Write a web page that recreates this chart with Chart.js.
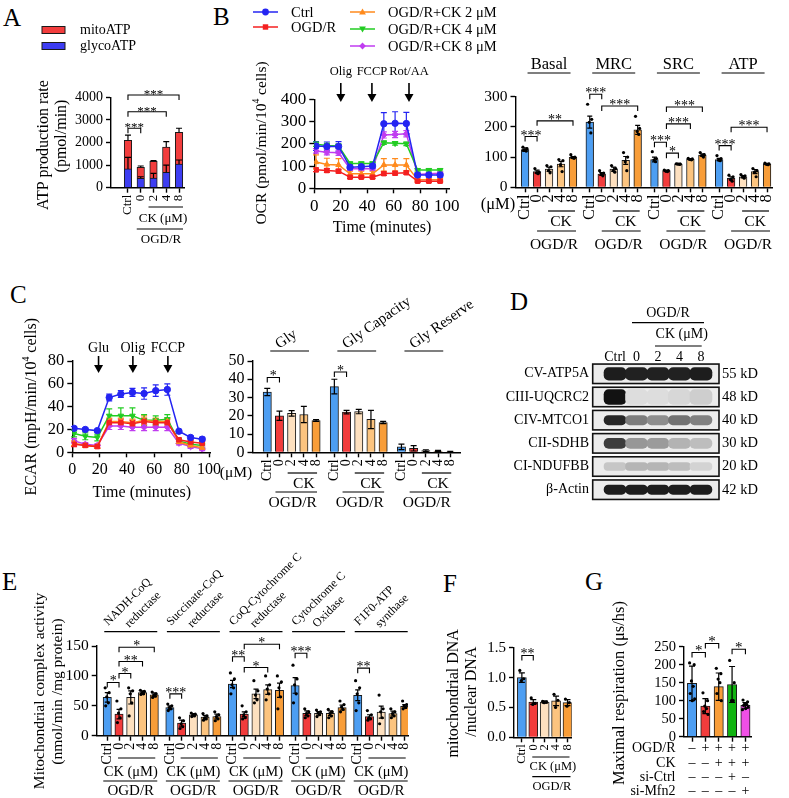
<!DOCTYPE html>
<html>
<head>
<meta charset="utf-8">
<title>Mitochondrial function figure</title>
<script src="https://cdn.jsdelivr.net/npm/chart.js@4.4.1/dist/chart.umd.min.js"></script>
<style>
  html, body { margin: 0; padding: 0; background: #fff; }
  #fig { position: relative; width: 789px; height: 798px; overflow: hidden; font-family: "Liberation Serif", "Times New Roman", serif; }
  #fig canvas { position: absolute; }
  .letter { position: absolute; font-size: 25px; line-height: 1; }
</style>
</head>
<body>
<div id="fig">
  <div class="letter" style="left:3px;top:5px">A</div>
  <div class="letter" style="left:213px;top:4px">B</div>
  <div class="letter" style="left:10px;top:282px">C</div>
  <div class="letter" style="left:510px;top:289px">D</div>
  <div class="letter" style="left:2px;top:569px">E</div>
  <div class="letter" style="left:443px;top:571px">F</div>
  <div class="letter" style="left:585px;top:569px">G</div>
</div>
<script>
// ---------------- data ----------------
const doses = ['Ctrl', '0', '2', '4', '8'];
const doseColors = ['#4d9ef2', '#f23c3c', '#fde0bf', '#fcc47f', '#f89d38'];

// A: ATP production rate (pmol/min)
const atpGlyco = [830, 420, 430, 680, 1050];
const atpMito = [1270, 480, 740, 1120, 1400];
const atpGlycoErr = [515, 65, 200, 320, 175];
const atpTotalErr = [230, 60, 30, 235, 180];

// B / C: Seahorse time courses
const seaTime = [1.3, 9.5, 18.3, 27, 35.5, 44, 52.5, 61, 69.5, 78, 86.5, 95];
const seriesNames = ['Ctrl', 'OGD/R', 'OGD/R+CK 2 μM', 'OGD/R+CK 4 μM', 'OGD/R+CK 8 μM'];
const seriesColors = ['#2424f2', '#f42020', '#ff8a1c', '#22cc22', '#c03cf0'];

const ocrCtrl = [190, 188, 188, 95, 97, 100, 290, 292, 291, 60, 60, 60];
const ocrOgd = [83, 80, 77, 50, 50, 50, 66, 68, 70, 32, 32, 32];
const ocrCk2 = [118, 107, 105, 65, 65, 65, 105, 105, 105, 38, 38, 38];
const ocrCk4 = [198, 192, 190, 112, 112, 112, 205, 202, 200, 82, 82, 82];
const ocrCk8 = [168, 162, 160, 88, 88, 88, 240, 242, 245, 62, 65, 68];
const ocrCtrlErr = [20, 20, 22, 12, 12, 12, 50, 52, 50, 10, 10, 10];
const ocrOgdErr = [8, 8, 8, 6, 6, 6, 8, 8, 8, 5, 5, 5];
const ocrCk2Err = [32, 28, 28, 12, 12, 12, 28, 28, 28, 6, 6, 6];
const ocrCk4Err = [10, 10, 10, 6, 6, 6, 8, 8, 8, 5, 5, 5];
const ocrCk8Err = [10, 12, 12, 8, 8, 8, 14, 14, 14, 6, 6, 6];
const ocrInject = [20, 43.5, 71.5];
const ocrInjectNames = ['Olig', 'FCCP', 'Rot/AA'];

const ecarCtrl = [21, 20, 19, 48, 51, 52.5, 51.5, 54, 55, 18.5, 13, 11.5];
const ecarOgd = [7, 6, 5, 26, 26, 25, 27, 26, 26, 11, 9, 8];
const ecarCk2 = [8, 6, 5, 27, 27, 26, 28, 27, 27, 9, 6, 4];
const ecarCk4 = [16.5, 14, 13, 32, 32, 32, 28, 28, 29, 10, 7, 6];
const ecarCk8 = [10, 7, 6, 23, 23, 22, 22, 22, 22, 8, 5, 3];
const ecarCtrlErr = [1.5, 1, 1, 3, 3, 3.5, 5, 5, 5, 1.5, 1.5, 1.5];
const ecarOgdErr = [2, 1.5, 1.5, 3, 3, 3, 3, 3, 3, 1.5, 1.5, 1.5];
const ecarCk2Err = [2, 1.5, 1.5, 3, 3, 3, 4, 3, 3, 1.5, 1.5, 1.5];
const ecarCk4Err = [3, 3, 3, 6, 7, 7, 5, 4, 4, 2, 2, 2];
const ecarCk8Err = [2, 1.5, 1.5, 3, 3, 3, 3, 3, 3, 1.5, 1.5, 1.5];
const ecarInject = [19.2, 44.3, 69.9];
const ecarInjectNames = ['Glu', 'Olig', 'FCCP'];

// B right: respiration parameters
const respGroups = ['Basal', 'MRC', 'SRC', 'ATP'];
const basalMean = [125, 52, 60, 77, 99];
const mrcMean = [216, 44, 60, 89, 190];
const srcMean = [92, 55, 77, 93, 107];
const atpMean = [92, 30, 35, 52, 77];
const basalErr = [6, 5, 7, 9, 3];
const mrcErr = [20, 5, 7, 13, 15];
const srcErr = [8, 2, 2, 2, 4];
const atpErr = [4, 5, 4, 7, 2];
const basalDots = [[133, 128, 124, 120, 122], [62, 50, 48, 45], [72, 68, 55, 48], [92, 88, 75, 52], [108, 100, 98, 96]];
const mrcDots = [[275, 225, 215, 180], [55, 47, 45, 38], [72, 62, 55, 50], [115, 100, 85, 55], [235, 195, 185, 175]];
const srcDots = [[118, 95, 90, 85], [57, 55, 53, 52], [78, 77, 77, 76], [96, 94, 92, 91], [115, 108, 105, 100]];
const atpDots = [[105, 95, 90, 88], [40, 35, 25, 20], [42, 38, 35, 30], [62, 55, 50, 35], [80, 78, 76, 75]];

// C right: glycolysis parameters
const glyGroups = ['Gly', 'Gly Capacity', 'Gly Reserve'];
const glyMean = [33, 20, 21.3, 20.7, 17.4];
const glyCapMean = [36, 22, 22.3, 18, 16.3];
const glyResMean = [3, 2.2, 0.9, 0.7, 0.3];
const glyErr = [2, 2.5, 1.5, 4.5, 0.5];
const glyCapErr = [4, 1, 1.2, 5, 0.6];
const glyResErr = [1.5, 1.5, 0.5, 0.3, 0.2];

// D: western blot (band darkness 0..1)
const blotRows = ['CV-ATP5A', 'CIII-UQCRC2', 'CIV-MTCO1', 'CII-SDHB', 'CI-NDUFBB', 'β-Actin'];
const blotSizes = ['55 kD', '48 kD', '40 kD', '30 kD', '20 kD', '42 kD'];
const bandAtp5a = [0.95, 0.93, 0.93, 0.93, 0.95];
const bandUqcrc2 = [1.0, 0.05, 0.05, 0.08, 0.12];
const bandMtco1 = [0.9, 0.5, 0.42, 0.55, 0.48];
const bandSdhb = [0.8, 0.38, 0.36, 0.25, 0.2];
const bandNdufbb = [0.16, 0.24, 0.24, 0.2, 0.1];
const bandActin = [0.95, 0.95, 0.95, 0.95, 0.95];

// E: complex activities
const complexNames = [['NADH-CoQ', 'reductase'], ['Succinate-CoQ', 'reductase'], ['CoQ-Cytochrome C', 'reductase'], ['Cytochrome C', 'Oxidase'], ['F1F0-ATP', 'synthase']];
const nadhMean = [64, 36, 64, 72, 68.5];
const succMean = [47, 21, 35, 31, 32];
const coqMean = [86.5, 36, 70, 77, 76];
const coxMean = [84, 37.5, 37.5, 37.5, 47];
const atpsMean = [67.5, 32, 39.5, 37, 49];
const nadhErr = [8, 8, 11, 3, 3];
const succErr = [3, 5, 2, 3, 4];
const coqErr = [6, 4, 8, 8, 12];
const coxErr = [13, 4, 3, 4, 4];
const atpsErr = [9, 3, 10, 4, 3];
const nadhDots = [[80, 72, 65, 55, 50], [58, 45, 38, 30, 22], [80, 75, 70, 55, 33], [76, 74, 72, 70, 69], [73, 70, 68, 66, 64]];
const succDots = [[53, 50, 47, 45, 42], [30, 25, 20, 15, 12], [38, 36, 35, 33, 32], [37, 33, 30, 28, 26], [40, 35, 32, 28, 25]];
const coqDots = [[105, 95, 85, 80, 70], [50, 40, 35, 30, 28], [92, 75, 68, 60, 55], [100, 85, 78, 70, 60], [100, 90, 80, 65, 45]];
const coxDots = [[118, 95, 85, 70, 55], [45, 40, 37, 33, 30], [43, 40, 38, 35, 32], [44, 40, 37, 33, 30], [58, 52, 48, 44, 40]];
const atpsDots = [[92, 80, 70, 55, 42], [42, 35, 30, 28, 26], [68, 45, 40, 30, 20], [45, 40, 37, 33, 30], [58, 52, 50, 47, 45]];

// F: mtDNA / nDNA
const mtdnaMean = [1.0, 0.59, 0.59, 0.61, 0.58];
const mtdnaErr = [0.08, 0.04, 0.02, 0.08, 0.05];
const mtdnaDots = [[1.12, 0.98, 0.95], [0.66, 0.57, 0.55], [0.6, 0.59, 0.58], [0.72, 0.62, 0.5], [0.64, 0.58, 0.52]];

// G: maximal respiration
const maxRespMean = [148, 85, 139, 145, 87];
const maxRespSd = [48, 21, 38, 50, 8];
const maxRespDots = [[205, 200, 155, 140, 120, 105, 100], [122, 100, 85, 78, 70, 62], [190, 175, 160, 150, 120, 100], [212, 150, 100, 100], [102, 97, 92, 90, 87, 82, 78, 75]];
const maxRespColors = ['#4d9ef2', '#f23c3c', '#f89d38', '#10b410', '#f04fe6'];
const condRows = ['OGD/R', 'CK', 'si-Ctrl', 'si-Mfn2'];
const condOgd = [0, 1, 1, 1, 1];
const condCk = [0, 0, 1, 1, 1];
const condSiCtrl = [0, 0, 0, 1, 0];
const condSiMfn2 = [0, 0, 0, 0, 1];

// ---------------- helpers ----------------
const FONT = '"Liberation Serif", "Times New Roman", serif';
Chart.defaults.font.family = FONT;
Chart.defaults.color = '#000';
Chart.defaults.animation = false;
Chart.defaults.plugins.legend.display = false;
Chart.defaults.plugins.tooltip.enabled = false;

const fig = document.getElementById('fig');
const jit = [-0.2, 0.18, -0.05, 0.1, -0.15, 0.22, 0.02, -0.25];

// canvas placed at box; y-axis width and x-axis height fill the gap to the plot area
function mount(box, area) {
  const c = document.createElement('canvas');
  c.width = box[2];
  c.height = box[3];
  c.dataset.yw = area[0] - box[0];
  c.dataset.xh = box[1] + box[3] - area[3];
  Object.assign(c.style, { left: box[0] + 'px', top: box[1] + 'px', width: box[2] + 'px', height: box[3] + 'px' });
  fig.appendChild(c);
  return c;
}

function pad(box, area) {
  return {
    autoPadding: false,
    padding: { left: 0, top: area[1] - box[1], right: box[0] + box[2] - area[2], bottom: 0 }
  };
}

const axisLine = { display: true, color: '#000', width: 1.4 };
const tickGrid = { drawOnChartArea: false, drawTicks: true, tickLength: 5, tickWidth: 1.4, tickColor: '#000', offset: false };

function yAxis(min, max, step, size, fmt, extra) {
  return Object.assign({
    type: 'linear', min, max,
    ticks: { stepSize: step, autoSkip: false, font: { size }, color: '#000', padding: 3, callback: v => fmt ? fmt(v) : String(v) },
    grid: tickGrid, border: axisLine,
    afterFit: s => { s.width = +s.chart.canvas.dataset.yw; }
  }, extra || {});
}

function xCats(min, max, pos, labels, size) {
  return {
    type: 'linear', min, max, offset: false,
    afterBuildTicks: s => { s.ticks = pos.map(v => ({ value: v })); },
    ticks: { autoSkip: false, minRotation: 90, maxRotation: 90, padding: 2, font: { size }, color: '#000', callback: (v, i) => labels[i] },
    grid: tickGrid, border: axisLine,
    afterFit: s => { s.height = +s.chart.canvas.dataset.xh; }
  };
}

function xTime(max, size) {
  return {
    type: 'linear', min: 0, max, offset: false,
    ticks: { stepSize: 20, autoSkip: false, includeBounds: false, maxRotation: 0, font: { size }, color: '#000', padding: 3, callback: v => String(v) },
    grid: tickGrid, border: axisLine,
    afterFit: s => { s.height = +s.chart.canvas.dataset.xh; }
  };
}

function deco(box, after, before) {
  const wrap = fn => ch => {
    const ctx = ch.ctx;
    const px = v => ch.scales.x.getPixelForValue(v) + box[0];
    const py = v => ch.scales.y.getPixelForValue(v) + box[1];
    ctx.save();
    ctx.translate(-box[0], -box[1]);
    fn(ctx, px, py, ch);
    ctx.restore();
  };
  const p = { id: 'deco' };
  if (after) p.afterDraw = wrap(after);
  if (before) p.beforeDatasetsDraw = wrap(before);
  return p;
}

function text(ctx, s, x, y, size, o) {
  o = o || {};
  ctx.save();
  ctx.font = size + 'px ' + FONT;
  ctx.fillStyle = '#000';
  ctx.textAlign = o.align || 'center';
  ctx.textBaseline = o.base || 'middle';
  ctx.translate(x, y);
  if (o.rot) ctx.rotate(o.rot * Math.PI / 180);
  ctx.fillText(s, 0, 0);
  ctx.restore();
}

function rich(ctx, parts, x, y, size, rot) {
  ctx.save();
  ctx.translate(x, y);
  ctx.rotate((rot || 0) * Math.PI / 180);
  ctx.fillStyle = '#000';
  ctx.textBaseline = 'middle';
  ctx.textAlign = 'left';
  const fonts = parts.map(p => (p[1] ? size * 0.62 : size) + 'px ' + FONT);
  const widths = parts.map((p, i) => { ctx.font = fonts[i]; return ctx.measureText(p[0]).width; });
  let cx = -widths.reduce((a, b) => a + b, 0) / 2;
  parts.forEach((p, i) => {
    ctx.font = fonts[i];
    ctx.fillText(p[0], cx, p[1] ? -size * 0.35 : 0);
    cx += widths[i];
  });
  ctx.restore();
}

function hline(ctx, x1, x2, y, w) {
  ctx.beginPath();
  ctx.lineWidth = w || 1.2;
  ctx.strokeStyle = '#000';
  ctx.moveTo(x1, y);
  ctx.lineTo(x2, y);
  ctx.stroke();
}

function bracket(ctx, px, py, a, b, v, stars, size) {
  const x1 = px(a), x2 = px(b), y = py(v);
  ctx.beginPath();
  ctx.lineWidth = 1.1;
  ctx.strokeStyle = '#000';
  ctx.moveTo(x1, y + 5); ctx.lineTo(x1, y); ctx.lineTo(x2, y); ctx.lineTo(x2, y + 5);
  ctx.stroke();
  text(ctx, stars, (x1 + x2) / 2, y + 3, size || 14, { base: 'alphabetic' });
}

function errorBars(ctx, px, py, xs, ys, es, o) {
  o = o || {};
  const cap = o.cap || 3;
  ctx.lineWidth = o.w || 1.2;
  ctx.strokeStyle = o.color || '#000';
  xs.forEach((xv, i) => {
    const x = px(xv), top = py(ys[i] + es[i]), bot = py(o.up ? ys[i] : ys[i] - es[i]);
    ctx.beginPath();
    ctx.moveTo(x, top); ctx.lineTo(x, bot);
    ctx.moveTo(x - cap, top); ctx.lineTo(x + cap, top);
    if (!o.up) { ctx.moveTo(x - cap, bot); ctx.lineTo(x + cap, bot); }
    ctx.stroke();
  });
}

function arrow(ctx, x, y1, y2, label, ly, size) {
  ctx.beginPath();
  ctx.lineWidth = 1.6;
  ctx.strokeStyle = '#000';
  ctx.moveTo(x, y1); ctx.lineTo(x, y2 - 7);
  ctx.stroke();
  ctx.beginPath();
  ctx.fillStyle = '#000';
  ctx.moveTo(x - 4.5, y2 - 8); ctx.lineTo(x + 4.5, y2 - 8); ctx.lineTo(x, y2);
  ctx.closePath();
  ctx.fill();
  text(ctx, label, x, ly, size);
}

function marker(ctx, k, x, y, r) {
  ctx.beginPath();
  if (k === 0) ctx.arc(x, y, r, 0, Math.PI * 2);
  else if (k === 1) ctx.rect(x - r * 0.8, y - r * 0.8, r * 1.6, r * 1.6);
  else if (k === 2) { ctx.moveTo(x, y - r); ctx.lineTo(x + r, y + r * 0.7); ctx.lineTo(x - r, y + r * 0.7); ctx.closePath(); }
  else if (k === 3) { ctx.moveTo(x, y + r); ctx.lineTo(x + r, y - r * 0.7); ctx.lineTo(x - r, y - r * 0.7); ctx.closePath(); }
  else { ctx.moveTo(x, y - r); ctx.lineTo(x + r, y); ctx.lineTo(x, y + r); ctx.lineTo(x - r, y); ctx.closePath(); }
  ctx.fill();
}

const markerStyles = ['circle', 'rect', 'triangle', 'triangle', 'rectRot'];
const markerRot = [0, 0, 0, 180, 0];

function lineSets(series) {
  return series.map((ys, i) => ({
    label: seriesNames[i],
    data: ys.map((v, k) => ({ x: seaTime[k], y: v })),
    borderColor: seriesColors[i], backgroundColor: seriesColors[i],
    borderWidth: 1.5, pointStyle: markerStyles[i], pointRotation: markerRot[i],
    pointRadius: 3.2, pointBorderWidth: 1, tension: 0
  }));
}

// bar datasets for grouped dose plots: one dataset per dose, one bar per group
function doseBars(groupMeans, gap, thick) {
  return doses.map((d, i) => ({
    type: 'bar', label: d, order: 2,
    data: groupMeans.map((m, g) => ({ x: g * gap + i, y: m[i] })),
    backgroundColor: doseColors[i], borderColor: '#1a1a1a', borderWidth: 1,
    grouped: false, barThickness: thick
  }));
}

function dotSet(groupDots, gap) {
  const pts = [];
  groupDots.forEach((bars, g) => bars.forEach((vals, i) => vals.forEach((v, k) => pts.push({ x: g * gap + i + jit[k] * 0.9, y: v }))));
  return { type: 'scatter', order: 0, data: pts, pointRadius: 1.6, backgroundColor: '#000', borderWidth: 0 };
}

function groupPositions(n, gap) {
  const pos = [];
  for (let g = 0; g < n; g++) for (let i = 0; i < 5; i++) pos.push(g * gap + i);
  return pos;
}

function groupLabels(n) {
  const out = [];
  for (let g = 0; g < n; g++) out.push(...doses);
  return out;
}

const idx5 = [0, 1, 2, 3, 4];

// ---------------- A ----------------
const boxA = [0, 0, 200, 250], areaA = [111, 97.3, 184, 187.7];
new Chart(mount(boxA, areaA), {
  type: 'bar',
  data: {
    datasets: [
      { label: 'glycoATP', data: atpGlyco.map((v, i) => ({ x: i, y: v })), backgroundColor: '#3d3df2', borderColor: '#1a1a1a', borderWidth: 1, grouped: false, barThickness: 7.5 },
      { label: 'mitoATP', data: atpMito.map((v, i) => ({ x: i, y: v })), backgroundColor: '#f23d3d', borderColor: '#1a1a1a', borderWidth: 1, grouped: false, barThickness: 7.5 }
    ]
  },
  options: {
    responsive: false,
    layout: pad(boxA, areaA),
    scales: { x: xCats(-1.33, 4.39, idx5, doses, 13), y: yAxis(0, 4000, 1000, 14, null, { stacked: true }) }
  },
  plugins: [deco(boxA, (ctx, px, py) => {
    const total = atpGlyco.map((v, i) => v + atpMito[i]);
    errorBars(ctx, px, py, idx5, atpGlyco, atpGlycoErr, { up: true, cap: 3 });
    errorBars(ctx, px, py, idx5, total, atpTotalErr, { up: true, cap: 3 });
    bracket(ctx, px, py, 0, 1, 2630, '***', 13);
    bracket(ctx, px, py, 0, 3, 3360, '***', 13);
    bracket(ctx, px, py, 0, 4, 4100, '***', 13);
    hline(ctx, px(2) - 5, px(4) + 4, 207);
    text(ctx, 'CK (μM)', 163, 219, 13);
    hline(ctx, px(1) - 4, px(4) + 4, 229);
    text(ctx, 'OGD/R', 161, 240, 13);
    // legend
    [['mitoATP', '#f23d3d', 30], ['glycoATP', '#3d3df2', 46]].forEach(l => {
      ctx.fillStyle = l[1];
      ctx.fillRect(42, l[2] - 3.5, 23, 7);
      ctx.lineWidth = 1; ctx.strokeStyle = '#1a1a1a';
      ctx.strokeRect(42, l[2] - 3.5, 23, 7);
      text(ctx, l[0], 80, l[2], 14, { align: 'left' });
    });
    text(ctx, 'ATP production rate', 43.5, 145, 16, { rot: -90 });
    text(ctx, '(pmol/min)', 62, 136, 16, { rot: -90 });
  })]
});

// ---------------- B left: OCR ----------------
const boxB1 = [235, 0, 265, 245], areaB1 = [314.3, 99.3, 449, 188.3];
const ocrSeries = [ocrCtrl, ocrOgd, ocrCk2, ocrCk4, ocrCk8];
const ocrErrs = [ocrCtrlErr, ocrOgdErr, ocrCk2Err, ocrCk4Err, ocrCk8Err];
new Chart(mount(boxB1, areaB1), {
  type: 'line',
  data: { datasets: lineSets(ocrSeries) },
  options: {
    responsive: false,
    layout: pad(boxB1, areaB1),
    scales: { x: xTime(101.7, 17), y: yAxis(0, 400, 100, 17) }
  },
  plugins: [deco(boxB1, (ctx, px) => {
    const legPos = [[253, 12], [253, 27], [350, 12], [350, 29], [350, 46]];
    seriesNames.forEach((n, i) => {
      const x = legPos[i][0], y = legPos[i][1];
      ctx.strokeStyle = seriesColors[i]; ctx.fillStyle = seriesColors[i]; ctx.lineWidth = 1.5;
      ctx.beginPath(); ctx.moveTo(x, y); ctx.lineTo(x + 25, y); ctx.stroke();
      marker(ctx, i, x + 12.5, y, 3.4);
      text(ctx, n, x + 38, y + 1, 14.5, { align: 'left' });
    });
    ocrInject.forEach((t, i) => arrow(ctx, px(t), 83, 102, ocrInjectNames[i], 72, 12.5));
    text(ctx, 'Time (minutes)', 382, 228, 16);
    rich(ctx, [['OCR (pmol/min/10', 0], ['4', 1], [' cells)', 0]], 262, 143, 15.5, -90);
  }, (ctx, px, py) => {
    ocrSeries.forEach((s, i) => errorBars(ctx, px, py, seaTime, s, ocrErrs[i], { color: seriesColors[i], cap: 3 }));
  })]
});

// ---------------- B right: respiration parameters ----------------
const boxB2 = [470, 40, 319, 215], areaB2 = [515.5, 96.7, 781.7, 187.3];
const respGap = 5.4;
const respMeans = [basalMean, mrcMean, srcMean, atpMean];
const respErrs = [basalErr, mrcErr, srcErr, atpErr];
new Chart(mount(boxB2, areaB2), {
  type: 'bar',
  data: { datasets: [...doseBars(respMeans, respGap, 7.7), dotSet([basalDots, mrcDots, srcDots, atpDots], respGap)] },
  options: {
    responsive: false,
    layout: pad(boxB2, areaB2),
    scales: { x: xCats(-0.8, 20.66, groupPositions(4, respGap), groupLabels(4), 16.5), y: yAxis(0, 300, 100, 15.5) }
  },
  plugins: [deco(boxB2, (ctx, px, py) => {
    respMeans.forEach((m, g) => {
      const b = g * respGap;
      errorBars(ctx, px, py, idx5.map(i => b + i), m, respErrs[g], { cap: 2.5 });
      const mid = (px(b) + px(b + 4)) / 2;
      text(ctx, respGroups[g], mid, 65, 16.5);
      hline(ctx, mid - 21.5, mid + 21.5, 73);
      hline(ctx, px(b + 2) - 1, px(b + 4) + 2, 211);
      text(ctx, 'CK', (px(b + 2) + px(b + 4)) / 2, 222, 15.5);
      hline(ctx, px(b + 1), px(b + 4) + 3, 231);
      text(ctx, 'OGD/R', mid + 5, 245, 15.5);
    });
    const br = [[0, 0, 1, 168, '***'], [0, 1, 4, 220, '**'], [1, 0, 1, 308, '***'], [1, 1, 4, 269, '***'],
      [2, 0, 1, 149, '***'], [2, 1, 2, 113, '*'], [2, 1, 3, 210, '***'], [2, 1, 4, 266, '***'],
      [3, 0, 1, 138, '***'], [3, 1, 4, 199, '***']];
    br.forEach(r => bracket(ctx, px, py, r[0] * respGap + r[1], r[0] * respGap + r[2], r[3], r[4], 14));
    text(ctx, '(μM)', 498, 205, 16.5);
  })]
});

// ---------------- C left: ECAR ----------------
const boxC1 = [0, 280, 240, 228], areaC1 = [72.3, 361, 210, 452.3];
const ecarSeries = [ecarCtrl, ecarOgd, ecarCk2, ecarCk4, ecarCk8];
const ecarErrs = [ecarCtrlErr, ecarOgdErr, ecarCk2Err, ecarCk4Err, ecarCk8Err];
new Chart(mount(boxC1, areaC1), {
  type: 'line',
  data: { datasets: lineSets(ecarSeries) },
  options: {
    responsive: false,
    layout: pad(boxC1, areaC1),
    scales: { x: xTime(100.7, 16), y: yAxis(0, 80, 20, 16.5) }
  },
  plugins: [deco(boxC1, (ctx, px) => {
    ecarInject.forEach((t, i) => arrow(ctx, px(t), 356, 373, ecarInjectNames[i], 348, 14));
    text(ctx, 'Time (minutes)', 141.7, 493, 16);
    rich(ctx, [['ECAR (mpH/min/10', 0], ['4', 1], [' cells)', 0]], 31.7, 406.7, 16, -90);
  }, (ctx, px, py) => {
    ecarSeries.forEach((s, i) => errorBars(ctx, px, py, seaTime, s, ecarErrs[i], { color: seriesColors[i], cap: 3 }));
  })]
});

// ---------------- C right: glycolysis parameters ----------------
const boxC2 = [205, 280, 305, 230], areaC2 = [252.5, 361, 460, 452.3];
const glyGap = 5.5;
const glyMeans = [glyMean, glyCapMean, glyResMean];
const glyErrs = [glyErr, glyCapErr, glyResErr];
new Chart(mount(boxC2, areaC2), {
  type: 'bar',
  data: { datasets: doseBars(glyMeans, glyGap, 8.3) },
  options: {
    responsive: false,
    layout: pad(boxC2, areaC2),
    scales: { x: xCats(-1.21, 15.8, groupPositions(3, glyGap), groupLabels(3), 14), y: yAxis(0, 50, 10, 16) }
  },
  plugins: [deco(boxC2, (ctx, px, py) => {
    glyMeans.forEach((m, g) => {
      const b = g * glyGap;
      errorBars(ctx, px, py, idx5.map(i => b + i), m, glyErrs[g], { cap: 3 });
      hline(ctx, px(b) + 3, px(b + 4) - 7, 351);
      text(ctx, glyGroups[g], px(b) + 12, 349, 15, { align: 'left', base: 'alphabetic', rot: -35 });
      hline(ctx, px(b + 2) - 4, px(b + 4) + 1, 473);
      text(ctx, 'CK', (px(b + 2) + px(b + 4)) / 2, 484, 15.5);
      hline(ctx, px(b + 1) - 4, px(b + 4) + 1, 492);
      text(ctx, 'OGD/R', (px(b) + px(b + 4)) / 2 + 1, 503, 15.5);
    });
    bracket(ctx, px, py, 0, 1, 41, '*', 14);
    bracket(ctx, px, py, glyGap, glyGap + 1, 44, '*', 14);
    text(ctx, '(μM)', 236, 473, 15.5);
  })]
});

// ---------------- D: western blot ----------------
const boxD = [505, 285, 284, 225], areaD = [592.7, 362.2, 719, 501.3];
const blotBands = [bandAtp5a, bandUqcrc2, bandMtco1, bandSdhb, bandNdufbb, bandActin];
const bandHalf = [0.27, 0.32, 0.2, 0.22, 0.17, 0.2];
const shade = v => { const g = Math.round(232 - 214 * v); return `rgb(${g},${g},${g})`; };
new Chart(mount(boxD, areaD), {
  type: 'bar',
  data: {
    datasets: blotBands.map((row, r) => ({
      label: blotRows[r],
      data: row.map((v, i) => ({ x: i, y: [r - bandHalf[r], r + bandHalf[r]] })),
      backgroundColor: row.map(shade), borderWidth: 0, borderRadius: 5, borderSkipped: false,
      grouped: false, barThickness: 22
    }))
  },
  options: {
    responsive: false,
    layout: { autoPadding: false, padding: { left: areaD[0] - boxD[0], top: areaD[1] - boxD[1], right: boxD[0] + boxD[2] - areaD[2], bottom: boxD[1] + boxD[3] - areaD[3] } },
    scales: {
      x: { type: 'linear', display: false, min: -1.04, max: 4.84, offset: false },
      y: { type: 'linear', display: false, reverse: true, min: -0.5, max: 5.5 }
    }
  },
  plugins: [deco(boxD, (ctx, px, py, ch) => {
    const x0 = ch.chartArea.left + boxD[0], x1 = ch.chartArea.right + boxD[0];
    ctx.lineWidth = 1.6; ctx.strokeStyle = '#111';
    blotRows.forEach((name, r) => {
      ctx.strokeRect(x0, py(r - 0.42), x1 - x0, py(r + 0.42) - py(r - 0.42));
      text(ctx, name, 589, py(r), 14, { align: 'right' });
      text(ctx, blotSizes[r], 722, py(r), 14.5, { align: 'left' });
    });
    text(ctx, 'OGD/R', 668, 313, 14);
    hline(ctx, 632, 704, 322.7);
    text(ctx, 'CK (μM)', 681.7, 334, 14);
    hline(ctx, 655, 701.7, 346);
    doses.forEach((d, i) => text(ctx, d, px(i), 357, 14));
  }, (ctx, px, py, ch) => {
    const x0 = ch.chartArea.left + boxD[0], x1 = ch.chartArea.right + boxD[0];
    ctx.fillStyle = '#ececec';
    blotRows.forEach((name, r) => ctx.fillRect(x0, py(r - 0.42), x1 - x0, py(r + 0.42) - py(r - 0.42)));
  })]
});

// ---------------- E: complex activities ----------------
const boxE = [0, 535, 425, 263], areaE = [96.7, 646, 408, 735.7];
const cxGap = 5.33;
const cxMeans = [nadhMean, succMean, coqMean, coxMean, atpsMean];
const cxErrs = [nadhErr, succErr, coqErr, coxErr, atpsErr];
new Chart(mount(boxE, areaE), {
  type: 'bar',
  data: { datasets: [...doseBars(cxMeans, cxGap, 8.3), dotSet([nadhDots, succDots, coqDots, coxDots, atpsDots], cxGap)] },
  options: {
    responsive: false,
    layout: pad(boxE, areaE),
    scales: { x: xCats(-0.9, 25.6, groupPositions(5, cxGap), groupLabels(5), 14), y: yAxis(0, 150, 50, 15.5) }
  },
  plugins: [deco(boxE, (ctx, px, py) => {
    cxMeans.forEach((m, g) => {
      const b = g * cxGap;
      errorBars(ctx, px, py, idx5.map(i => b + i), m, cxErrs[g], { cap: 2.5 });
      hline(ctx, px(b) - 3, px(b + 4) + 3, 631.7);
      text(ctx, complexNames[g][0], px(b) + 1, 626, 12, { align: 'left', base: 'alphabetic', rot: -45 });
      text(ctx, complexNames[g][1], px(b) + 22, 628, 12, { align: 'left', base: 'alphabetic', rot: -45 });
      hline(ctx, px(b + 1) - 1, px(b + 4) + 1, 758);
      const mid = (px(b) + px(b + 4)) / 2;
      text(ctx, 'CK (μM)', mid, 772, 14.5);
      hline(ctx, px(b) - 4, px(b + 4) + 3, 781);
      text(ctx, 'OGD/R', mid, 791.5, 15);
    });
    const br = [[0, 0, 1, 89, '*'], [0, 1, 2, 104, '*'], [0, 1, 3, 124, '**'], [0, 1, 4, 148, '*'],
      [1, 0, 1, 70, '***'], [2, 0, 1, 132, '**'], [2, 1, 3, 114, '*'], [2, 1, 4, 153, '*'],
      [3, 0, 1, 138, '***'], [4, 0, 1, 113, '**']];
    br.forEach(r => bracket(ctx, px, py, r[0] * cxGap + r[1], r[0] * cxGap + r[2], r[3], r[4], 14));
    text(ctx, 'Mitochondrial complex activity', 40, 691, 15.5, { rot: -90 });
    text(ctx, '(nmol/min /mg protein)', 58.3, 691.5, 15.5, { rot: -90 });
  })]
});

// ---------------- F: mtDNA ----------------
const boxF = [425, 570, 160, 228], areaF = [514, 647.7, 578, 737.3];
new Chart(mount(boxF, areaF), {
  type: 'bar',
  data: { datasets: [...doseBars([mtdnaMean], 0, 9), dotSet([mtdnaDots], 0)] },
  options: {
    responsive: false,
    layout: pad(boxF, areaF),
    scales: { x: xCats(-0.69, 4.37, idx5, doses, 12.5), y: yAxis(0, 1.5, 0.5, 15, v => v.toFixed(1)) }
  },
  plugins: [deco(boxF, (ctx, px, py) => {
    errorBars(ctx, px, py, idx5, mtdnaMean, mtdnaErr, { cap: 3 });
    bracket(ctx, px, py, 0, 1, 1.37, '**', 14);
    hline(ctx, px(1) - 1, px(4) + 2, 757);
    text(ctx, 'CK (μM)', (px(1) + px(4)) / 2 + 2.5, 767, 12.5);
    hline(ctx, px(1) - 1, px(4) + 3, 776.7);
    text(ctx, 'OGD/R', (px(1) + px(4)) / 2 + 1.5, 787, 12.5);
    text(ctx, 'mitochondrial DNA', 453.3, 693.3, 16, { rot: -90 });
    text(ctx, '/nuclear DNA', 471.7, 691.7, 16, { rot: -90 });
  })]
});

// ---------------- G: maximal respiration ----------------
const boxG = [585, 570, 204, 228], areaG = [684, 646.7, 751.7, 736.7];
new Chart(mount(boxG, areaG), {
  type: 'bar',
  data: {
    datasets: [
      { type: 'bar', order: 2, data: maxRespMean.map((v, i) => ({ x: i, y: v })), backgroundColor: maxRespColors, borderColor: '#1a1a1a', borderWidth: 1, grouped: false, barThickness: 9.3 },
      dotSet([maxRespDots], 0)
    ]
  },
  options: {
    responsive: false,
    layout: pad(boxG, areaG),
    scales: { x: xCats(-0.6, 4.47, idx5, ['', '', '', '', ''], 12), y: yAxis(0, 250, 50, 14.5) }
  },
  plugins: [deco(boxG, (ctx, px, py) => {
    errorBars(ctx, px, py, idx5, maxRespMean, maxRespSd, { cap: 3 });
    bracket(ctx, px, py, 0, 1, 234, '*', 15);
    bracket(ctx, px, py, 1, 2, 259, '*', 15);
    bracket(ctx, px, py, 3, 4, 243, '*', 15);
    const conds = [condOgd, condCk, condSiCtrl, condSiMfn2];
    const rowY = [748.3, 763.3, 777, 791.7];
    conds.forEach((c, r) => {
      text(ctx, condRows[r], 675.5, rowY[r], 14, { align: 'right' });
      c.forEach((on, i) => text(ctx, on ? '+' : '–', px(i), rowY[r], 14));
    });
    text(ctx, 'Maximal respiration (μs/hs)', 620, 693, 16.5, { rot: -90 });
  })]
});
</script>
</body>
</html>
